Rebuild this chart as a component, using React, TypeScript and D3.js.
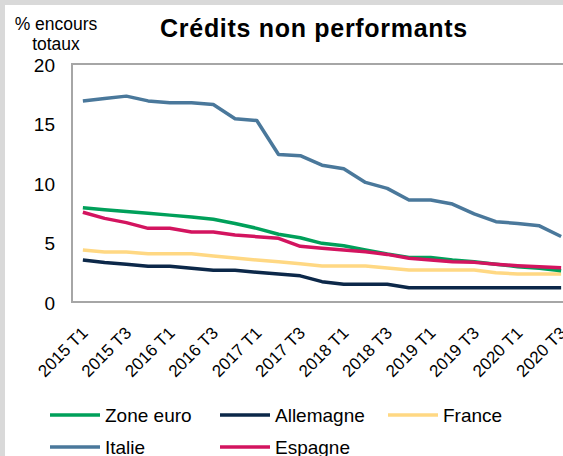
import React, { useEffect, useRef } from 'react';
import * as d3 from 'd3';

const quarters = [
  '2015 T1', '2015 T2', '2015 T3', '2015 T4',
  '2016 T1', '2016 T2', '2016 T3', '2016 T4',
  '2017 T1', '2017 T2', '2017 T3', '2017 T4',
  '2018 T1', '2018 T2', '2018 T3', '2018 T4',
  '2019 T1', '2019 T2', '2019 T3', '2019 T4',
  '2020 T1', '2020 T2', '2020 T3',
];

const zoneEuro = [7.92, 7.75, 7.6, 7.45, 7.3, 7.15, 6.95, 6.6, 6.19, 5.69, 5.4, 4.93, 4.73, 4.37, 4.03, 3.75, 3.75, 3.53, 3.39, 3.17, 2.97, 2.83, 2.63];
const allemagne = [3.53, 3.31, 3.17, 3.0, 3.0, 2.83, 2.66, 2.66, 2.5, 2.35, 2.2, 1.71, 1.49, 1.49, 1.49, 1.2, 1.2, 1.2, 1.2, 1.2, 1.2, 1.2, 1.2];
const france = [4.37, 4.2, 4.2, 4.06, 4.06, 4.05, 3.87, 3.7, 3.53, 3.39, 3.22, 3.03, 3.03, 3.03, 2.86, 2.69, 2.69, 2.69, 2.69, 2.46, 2.35, 2.35, 2.35];
const italie = [16.9, 17.1, 17.3, 16.9, 16.75, 16.75, 16.6, 15.4, 15.25, 12.4, 12.3, 11.5, 11.2, 10.05, 9.55, 8.57, 8.57, 8.23, 7.4, 6.75, 6.6, 6.4, 5.5];
const espagne = [7.54, 7.03, 6.67, 6.19, 6.19, 5.88, 5.88, 5.63, 5.49, 5.35, 4.68, 4.51, 4.37, 4.23, 4.0, 3.67, 3.53, 3.39, 3.33, 3.17, 3.05, 2.97, 2.88];

const yTicks = [0, 5, 10, 15, 20];

const series = [
  { name: 'Zone euro', values: zoneEuro, color: '#00a05a' },
  { name: 'Allemagne', values: allemagne, color: '#0c2849' },
  { name: 'France', values: france, color: '#ffd883' },
  { name: 'Italie', values: italie, color: '#4a789b' },
  { name: 'Espagne', values: espagne, color: '#d3145f' },
];

// draw order: back to front
const drawOrder = ['France', 'Allemagne', 'Italie', 'Zone euro', 'Espagne'];

const W = 563;
const H = 456;
const FONT = 'Liberation Sans, Arial, sans-serif';

export default function App() {
  const svgRef = useRef<SVGSVGElement>(null);

  useEffect(() => {
    const margin = { top: 64, left: 72, bottom: 302, right: 572 };

    const svg = d3.select(svgRef.current).html('');

    // outer frame
    svg.append('rect').attr('width', W).attr('height', H).attr('fill', '#d9d9d9');
    svg.append('rect').attr('x', 5).attr('y', 5).attr('width', W).attr('height', H).attr('fill', '#fff');

    const x = d3.scaleBand<string>().domain(quarters).range([margin.left, margin.right]);
    const cx = (q: string) => (x(q) as number) + x.bandwidth() / 2;
    const y = d3.scaleLinear().domain([0, 20]).range([margin.bottom, margin.top]);

    // plot frame
    svg.append('path')
      .attr('d', `M${margin.right},${margin.top}H${margin.left}V${margin.bottom}H${margin.right}`)
      .attr('fill', 'none')
      .attr('stroke', '#a6a6a6')
      .attr('stroke-width', 2);

    // title
    svg.append('text')
      .attr('x', 314)
      .attr('y', 37)
      .attr('text-anchor', 'middle')
      .style('font-family', FONT)
      .style('font-size', '25px')
      .style('font-weight', 'bold')
      .style('letter-spacing', '0.7px')
      .text('Crédits non performants');

    // y axis title
    const yt = svg.append('text')
      .attr('text-anchor', 'middle')
      .style('font-family', FONT)
      .style('font-size', '17.5px');
    yt.append('tspan').attr('x', 56).attr('y', 30).text('% encours');
    yt.append('tspan').attr('x', 56).attr('y', 50).text('totaux');

    // y ticks
    svg.append('g')
      .selectAll('text')
      .data(yTicks)
      .join('text')
      .attr('x', 55)
      .attr('y', d => y(d) + 7.5)
      .attr('text-anchor', 'end')
      .style('font-family', FONT)
      .style('font-size', '19px')
      .text(d => d);

    // x labels, every other quarter
    svg.append('g')
      .selectAll('text')
      .data(quarters.filter((_, i) => i % 2 === 0))
      .join('text')
      .attr('transform', d => `translate(${cx(d) + 6},${334}) rotate(-45)`)
      .attr('text-anchor', 'end')
      .style('font-family', FONT)
      .style('font-size', '17px')
      .text(d => d);

    // lines
    const line = d3.line<number>()
      .x((_, i) => cx(quarters[i]))
      .y(d => y(d));

    drawOrder.forEach(n => {
      const s = series.find(d => d.name === n)!;
      svg.append('path')
        .datum(s.values)
        .attr('fill', 'none')
        .attr('stroke', s.color)
        .attr('stroke-width', 3.5)
        .attr('stroke-linejoin', 'round')
        .attr('d', line);
    });

    // legend
    const legendPos = [
      { x: 50, y: 415 }, { x: 220, y: 415 }, { x: 388, y: 415 },
      { x: 50, y: 447 }, { x: 220, y: 447 },
    ];
    const lg = svg.append('g')
      .selectAll('g')
      .data(series)
      .join('g')
      .attr('transform', (_, i) => `translate(${legendPos[i].x},${legendPos[i].y})`);
    lg.append('line')
      .attr('x1', 0).attr('x2', 50)
      .attr('stroke', d => d.color)
      .attr('stroke-width', 3.5);
    lg.append('text')
      .attr('x', 55)
      .attr('y', 7)
      .style('font-family', FONT)
      .style('font-size', '19px')
      .text(d => d.name);
  }, []);

  return (
    <>
      <style>{'body{margin:0}'}</style>
      <svg ref={svgRef} width={W} height={H} style={{ display: 'block' }} />
    </>
  );
}
